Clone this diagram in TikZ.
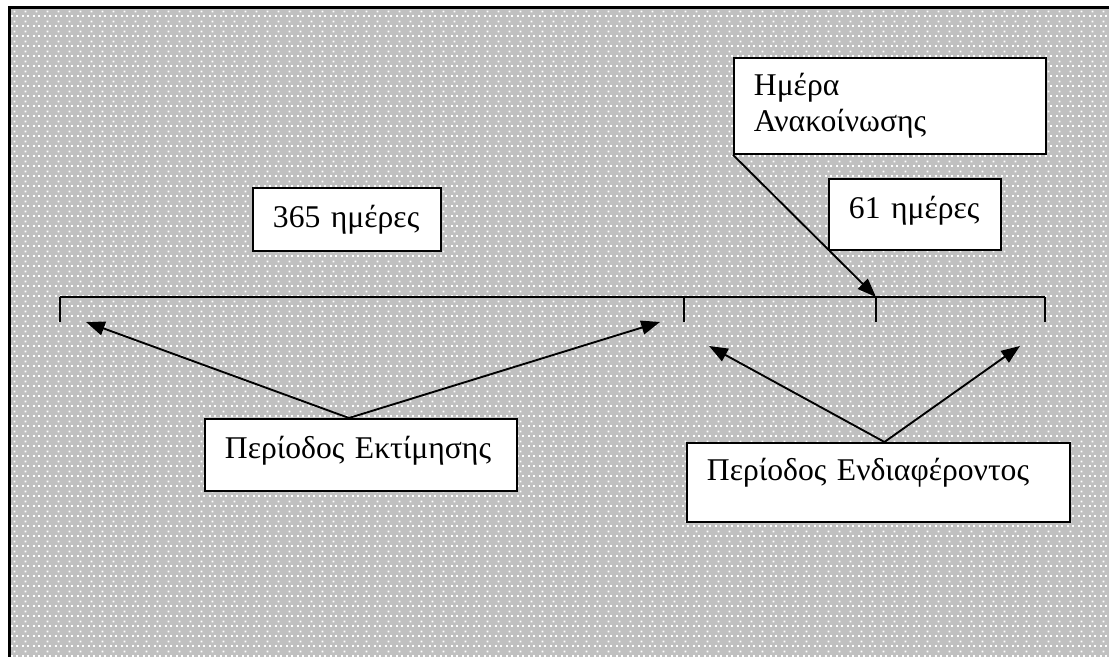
\documentclass[tikz,border=0pt]{standalone}
\usepackage{fontspec}
\setmainfont{Liberation Serif}
\usetikzlibrary{arrows.meta,patterns.meta}

\definecolor{dotgray}{RGB}{192,192,192}

\tikzdeclarepattern{
  name=dotgrid,
  type=uncolored,
  bounding box={(0pt,0pt) and (9.4pt,8.54pt)},
  tile size={(9.4pt,8.54pt)},
  code={
    \pgfpathrectangle{\pgfpoint{0pt}{0pt}}{\pgfpoint{1.8pt}{1.8pt}}
    \pgfpathrectangle{\pgfpoint{4.7pt}{0pt}}{\pgfpoint{1.8pt}{1.8pt}}
    \pgfpathrectangle{\pgfpoint{2.35pt}{4.27pt}}{\pgfpoint{1.8pt}{1.8pt}}
    \pgfusepath{fill}
  }
}

\tikzset{
  box/.style={draw, fill=white, line width=1.6pt, anchor=north west,
    inner xsep=0.6cm, inner ysep=0pt, align=left,
    font=\fontsize{27}{31}\selectfont},
}

\begin{document}
\begin{tikzpicture}[x=0.03cm,y=-0.03cm,line width=1.6pt,
  >={Triangle[length=16pt,width=12pt]}]
\useasboundingbox (0,0) rectangle (1109,657);
% dotted background with frame
\fill[dotgray] (11,9) rectangle (1109,657);
\fill[pattern=dotgrid,pattern color=white] (11,9) rectangle (1109,657);
\draw[line width=2.6pt] (9.5,657) -- (9.5,7.5) -- (1109,7.5);
% text boxes
\node[box,text width=8.16cm,minimum height=2.88cm] (day) at (733,57)
  {Ημέρα\\Ανακοίνωσης};
\node[box,text width=4.44cm,text height=1.2cm,text depth=0.69cm] (d365) at (252,187)
  {365 ημέρες};
\node[box,text width=3.96cm,text height=1.2cm,text depth=0.93cm] (d61) at (828,178)
  {61 ημέρες};
\node[box,text width=8.16cm,text height=1.2cm,text depth=0.96cm] (est) at (204,418)
  {Περίοδος Εκτίμησης};
\node[box,text width=10.29cm,text height=1.14cm,text depth=1.23cm] (int) at (686,442)
  {Περίοδος Ενδιαφέροντος};
% time line with ticks
\coordinate (t0) at (60,297);
\coordinate (t1) at (684,297);
\coordinate (t2) at (876,297);
\coordinate (t3) at (1045,297);
\draw (t0) -- (t3);
\foreach \t in {t0,t1,t2,t3}
  \draw (\t) -- ++(0,25);
% arrow ends
\coordinate (e1) at (86,322);
\coordinate (e2) at (660,322);
\coordinate (e3) at (709,346);
\coordinate (e4) at (1020,346);
% arrows
\draw[->] ([xshift=-0.36cm]est.north) -- (e1);
\draw[->] ([xshift=-0.36cm]est.north) -- (e2);
\draw[->] ([xshift=0.18cm]int.north) -- (e3);
\draw[->] ([xshift=0.18cm]int.north) -- (e4);
\draw[->] (day.south west) -- (t2);
\end{tikzpicture}
\end{document}
